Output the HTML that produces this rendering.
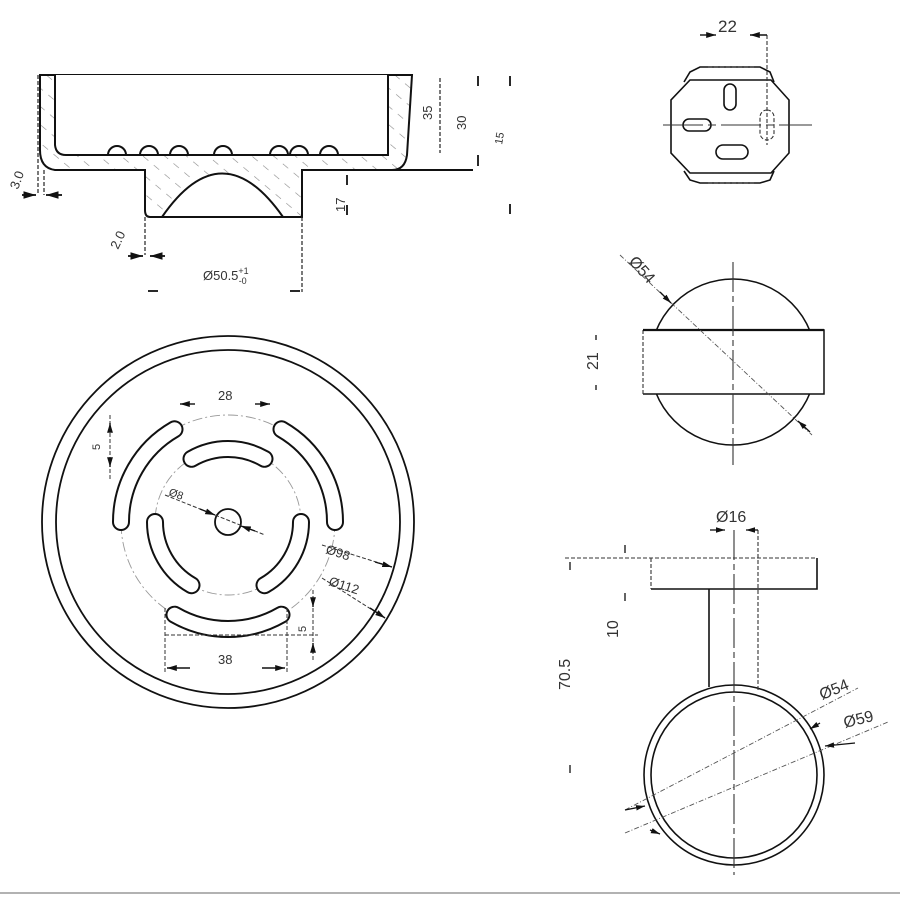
<!DOCTYPE html>
<html><head><meta charset="utf-8"><style>
html,body{margin:0;padding:0;background:#fff;}
svg{display:block;}
text{font-family:"Liberation Sans",sans-serif;fill:#333;}
</style></head><body>
<svg width="900" height="900" viewBox="0 0 900 900" xmlns="http://www.w3.org/2000/svg">
<defs>
<pattern id="h" width="14" height="14" patternUnits="userSpaceOnUse" patternTransform="rotate(-50)">
<line x1="0" y1="0" x2="0" y2="7" stroke="#888" stroke-width="1.2"/>
</pattern>
<marker id="a" viewBox="0 0 10 10" refX="10" refY="5" markerWidth="7" markerHeight="7" orient="auto-start-reverse"><path d="M0,2 L10,5 L0,8z" fill="#111"/></marker>
</defs>
<g fill="none" stroke="#111" stroke-width="2">
<path d="M40,75 L412,75 L407,155 Q405,170 392,170 L302,170 L302,217 L150,217 Q145,217 145,210 L145,170 L55,170 Q40,168 40,150 Z" fill="url(#h)"/>
<path d="M55,75 L55,145 Q56,155 66,155 L388,155 L388,75" fill="#fff"/>
<path d="M108,155 a9,9 0 0 1 18,0 M140,155 a9,9 0 0 1 18,0 M170,155 a9,9 0 0 1 18,0 M214,155 a9,9 0 0 1 18,0 M270,155 a9,9 0 0 1 18,0 M290,155 a9,9 0 0 1 18,0 M320,155 a9,9 0 0 1 18,0"/>
<path d="M162,217 Q222,130 283,217 Z" fill="#fff"/>
<line x1="302" y1="170" x2="473" y2="170"/>
</g>
<g fill="none" stroke="#222" stroke-width="1.2" stroke-dasharray="4,2">
<line x1="38" y1="75" x2="38" y2="195"/><line x1="44" y1="170" x2="44" y2="195"/>
<line x1="145" y1="217" x2="145" y2="255"/>
<line x1="302" y1="217" x2="302" y2="292"/>
<line x1="440" y1="78" x2="440" y2="153"/>
</g>
<g stroke="#111" stroke-width="1.8">
<line x1="22" y1="195" x2="36" y2="195" marker-end="url(#a)"/><line x1="62" y1="195" x2="46" y2="195" marker-end="url(#a)"/>
<line x1="128" y1="256" x2="143" y2="256" marker-end="url(#a)"/><line x1="165" y1="256" x2="150" y2="256" marker-end="url(#a)"/>
<line x1="148" y1="291" x2="158" y2="291"/><line x1="290" y1="291" x2="300" y2="291"/>
<line x1="478" y1="76" x2="478" y2="86"/><line x1="510" y1="76" x2="510" y2="86"/>
<line x1="478" y1="155" x2="478" y2="166"/><line x1="510" y1="204" x2="510" y2="214"/>
<line x1="347" y1="175" x2="347" y2="185"/><line x1="347" y1="205" x2="347" y2="215"/>
</g>
<g font-size="13">
<text transform="translate(18,190) rotate(-70)" fill="#999">3.0</text>
<text transform="translate(118,250) rotate(-65)" fill="#999">2.0</text>
<text x="203" y="280" fill="#555">Ø50.5<tspan font-size="9" dy="-6">+1</tspan><tspan font-size="9" dx="-10" dy="10">-0</tspan></text>
<text transform="translate(432,120) rotate(-90)" fill="#999">35</text>
<text transform="translate(466,130) rotate(-90)" fill="#999">30</text>
<text transform="translate(502,145) rotate(-80)" fill="#999" font-size="11">15</text>
<text transform="translate(345,212) rotate(-90)" fill="#999">17</text>
</g>

<g fill="none" stroke="#111" stroke-width="1.8">
<circle cx="228" cy="522" r="186"/>
<circle cx="228" cy="522" r="172"/>
<circle cx="228" cy="522" r="13"/>
</g>
<g fill="none" stroke="#999" stroke-width="0.9" stroke-dasharray="10,3,2,3">
<circle cx="228" cy="522" r="107"/>
<circle cx="228" cy="522" r="73"/>
</g>
<g fill="none" stroke-linecap="round">
<path d="M174.5,429.3 A107,107 0 0 0 121,522 M281.5,429.3 A107,107 0 0 1 335,522 M174.5,614.7 A107,107 0 0 0 281.5,614.7 M191.5,458.8 A73,73 0 0 1 264.5,458.8 M155,522 A73,73 0 0 0 191.5,585.2 M301,522 A73,73 0 0 1 264.5,585.2" stroke="#111" stroke-width="18"/>
<path d="M174.5,429.3 A107,107 0 0 0 121,522 M281.5,429.3 A107,107 0 0 1 335,522 M174.5,614.7 A107,107 0 0 0 281.5,614.7 M191.5,458.8 A73,73 0 0 1 264.5,458.8 M155,522 A73,73 0 0 0 191.5,585.2 M301,522 A73,73 0 0 1 264.5,585.2" stroke="#fff" stroke-width="14"/>
</g>
<g fill="none" stroke="#333" stroke-width="1" stroke-dasharray="4,2">
<line x1="165" y1="608" x2="165" y2="672"/><line x1="287" y1="608" x2="287" y2="672"/>
<line x1="165" y1="635" x2="318" y2="635"/>
<line x1="110" y1="415" x2="110" y2="480"/>
<line x1="313" y1="590" x2="313" y2="662"/>
<line x1="165" y1="495" x2="265" y2="535"/>
<line x1="322" y1="545" x2="392" y2="567"/>
<line x1="322" y1="578" x2="385" y2="618"/>
</g>
<g stroke="#111" stroke-width="1.4">
<line x1="195" y1="404" x2="180" y2="404" marker-end="url(#a)"/><line x1="255" y1="404" x2="270" y2="404" marker-end="url(#a)"/>
<line x1="190" y1="668" x2="167" y2="668" marker-end="url(#a)"/><line x1="262" y1="668" x2="285" y2="668" marker-end="url(#a)"/>
<line x1="110" y1="430" x2="110" y2="423" marker-end="url(#a)"/><line x1="110" y1="460" x2="110" y2="467" marker-end="url(#a)"/>
<line x1="313" y1="600" x2="313" y2="607" marker-end="url(#a)"/><line x1="313" y1="650" x2="313" y2="643" marker-end="url(#a)"/>
<line x1="200" y1="509" x2="215" y2="515" marker-end="url(#a)"/><line x1="255" y1="531" x2="241" y2="526" marker-end="url(#a)"/>
<line x1="375" y1="562" x2="392" y2="567" marker-end="url(#a)"/><line x1="370" y1="608" x2="385" y2="618" marker-end="url(#a)"/>
</g>
<g font-size="13">
<text x="218" y="400" fill="#888">28</text>
<text transform="translate(100,450) rotate(-90)" fill="#999" font-size="11">5</text>
<text transform="translate(168,495) rotate(20)" fill="#999" font-size="11">Ø8</text>
<text transform="translate(325,553) rotate(18)" fill="#999">Ø98</text>
<text transform="translate(328,585) rotate(18)" fill="#999">Ø112</text>
<text transform="translate(306,632) rotate(-90)" fill="#999" font-size="11">5</text>
<text x="218" y="664" fill="#999">38</text>
</g>

<g fill="none" stroke="#111" stroke-width="1.6">
<path d="M690,80 L771,80 L789,100 L789,153 L771,173 L690,173 L671,153 L671,100 Z"/>
<path d="M684,82 L690,72 L700,67 L760,67 L770,72 L774,82"/>
<path d="M684,171 L690,180 L700,183 L760,183 L770,180 L774,171"/>
<rect x="724" y="84" width="12" height="26" rx="6"/>
<rect x="683" y="119" width="28" height="12" rx="6"/>
<rect x="716" y="145" width="32" height="14" rx="7"/>
</g>
<g fill="none" stroke="#333" stroke-width="1.1" stroke-dasharray="4,2">
<rect x="760" y="110" width="14" height="30" rx="7"/>
<line x1="767" y1="35" x2="767" y2="145"/>
<line x1="708" y1="67" x2="755" y2="67"/>
<line x1="708" y1="183" x2="755" y2="183"/>
</g>
<line x1="663" y1="125" x2="812" y2="125" stroke="#333" stroke-width="1.1" stroke-dasharray="40,5,8,5"/>
<g stroke="#111" stroke-width="1.4">
<line x1="700" y1="35" x2="716" y2="35" marker-end="url(#a)"/><line x1="767" y1="35" x2="750" y2="35" marker-end="url(#a)"/>
</g>
<text x="718" y="32" font-size="17" fill="#333">22</text>

<g fill="none" stroke="#111" stroke-width="1.5">
<circle cx="733" cy="362" r="83"/>
<path d="M643,330 L824,330 L824,394 L643,394" fill="#fff"/>
</g>
<line x1="643" y1="330" x2="643" y2="394" stroke="#333" stroke-width="1.1" stroke-dasharray="4,2"/>
<line x1="643" y1="330" x2="824" y2="330" stroke="#111" stroke-width="2.2"/>
<line x1="733" y1="262" x2="733" y2="465" stroke="#333" stroke-width="1.1" stroke-dasharray="30,4,6,4"/>
<line x1="620" y1="255" x2="812" y2="435" stroke="#555" stroke-width="0.9" stroke-dasharray="5,2,1,2"/>
<g stroke="#111" stroke-width="1.3">
<line x1="660" y1="292" x2="671" y2="303" marker-end="url(#a)"/><line x1="810" y1="432" x2="798" y2="421" marker-end="url(#a)"/>
<line x1="596" y1="335" x2="596" y2="340"/><line x1="596" y1="385" x2="596" y2="390"/>
</g>
<text transform="translate(628,262) rotate(48)" font-size="16" fill="#333">Ø54</text>
<text transform="translate(598,370) rotate(-90)" font-size="16" fill="#333">21</text>

<g fill="none" stroke="#111" stroke-width="1.6">
<path d="M651,589 L817,589 L817,558"/>
<line x1="709" y1="589" x2="709" y2="687"/>
<circle cx="734" cy="775" r="90"/>
<circle cx="734" cy="775" r="83"/>
</g>
<g fill="none" stroke="#333" stroke-width="1.1" stroke-dasharray="4,2">
<line x1="565" y1="558" x2="817" y2="558"/>
<line x1="651" y1="558" x2="651" y2="589"/>
<line x1="758" y1="530" x2="758" y2="690"/>
</g>
<line x1="734" y1="530" x2="734" y2="875" stroke="#333" stroke-width="1.1" stroke-dasharray="30,4,6,4"/>
<g stroke="#555" stroke-width="0.9" stroke-dasharray="5,2,1,2">
<line x1="625" y1="810" x2="858" y2="688"/>
<line x1="625" y1="833" x2="888" y2="722"/>
</g>
<g stroke="#111" stroke-width="1.3">
<line x1="710" y1="530" x2="725" y2="530" marker-end="url(#a)"/><line x1="758" y1="530" x2="746" y2="530" marker-end="url(#a)"/>
<line x1="625" y1="810" x2="645" y2="806" marker-end="url(#a)"/><line x1="820" y1="723" x2="810" y2="729" marker-end="url(#a)"/>
<line x1="855" y1="743" x2="825" y2="746" marker-end="url(#a)"/><line x1="650" y1="830" x2="660" y2="834" marker-end="url(#a)"/>
<line x1="570" y1="562" x2="570" y2="570"/><line x1="570" y1="765" x2="570" y2="773"/>
<line x1="625" y1="545" x2="625" y2="553"/><line x1="625" y1="593" x2="625" y2="601"/>
</g>
<text x="716" y="522" font-size="16" fill="#333">Ø16</text>
<text transform="translate(618,638) rotate(-90)" font-size="16" fill="#333">10</text>
<text transform="translate(570,690) rotate(-90)" font-size="16" fill="#333">70.5</text>
<text transform="translate(822,700) rotate(-22)" font-size="16" fill="#333">Ø54</text>
<text transform="translate(845,728) rotate(-14)" font-size="16" fill="#333">Ø59</text>

<line x1="0" y1="893" x2="900" y2="893" stroke="#999" stroke-width="1.5"/>
</svg>
</body></html>
